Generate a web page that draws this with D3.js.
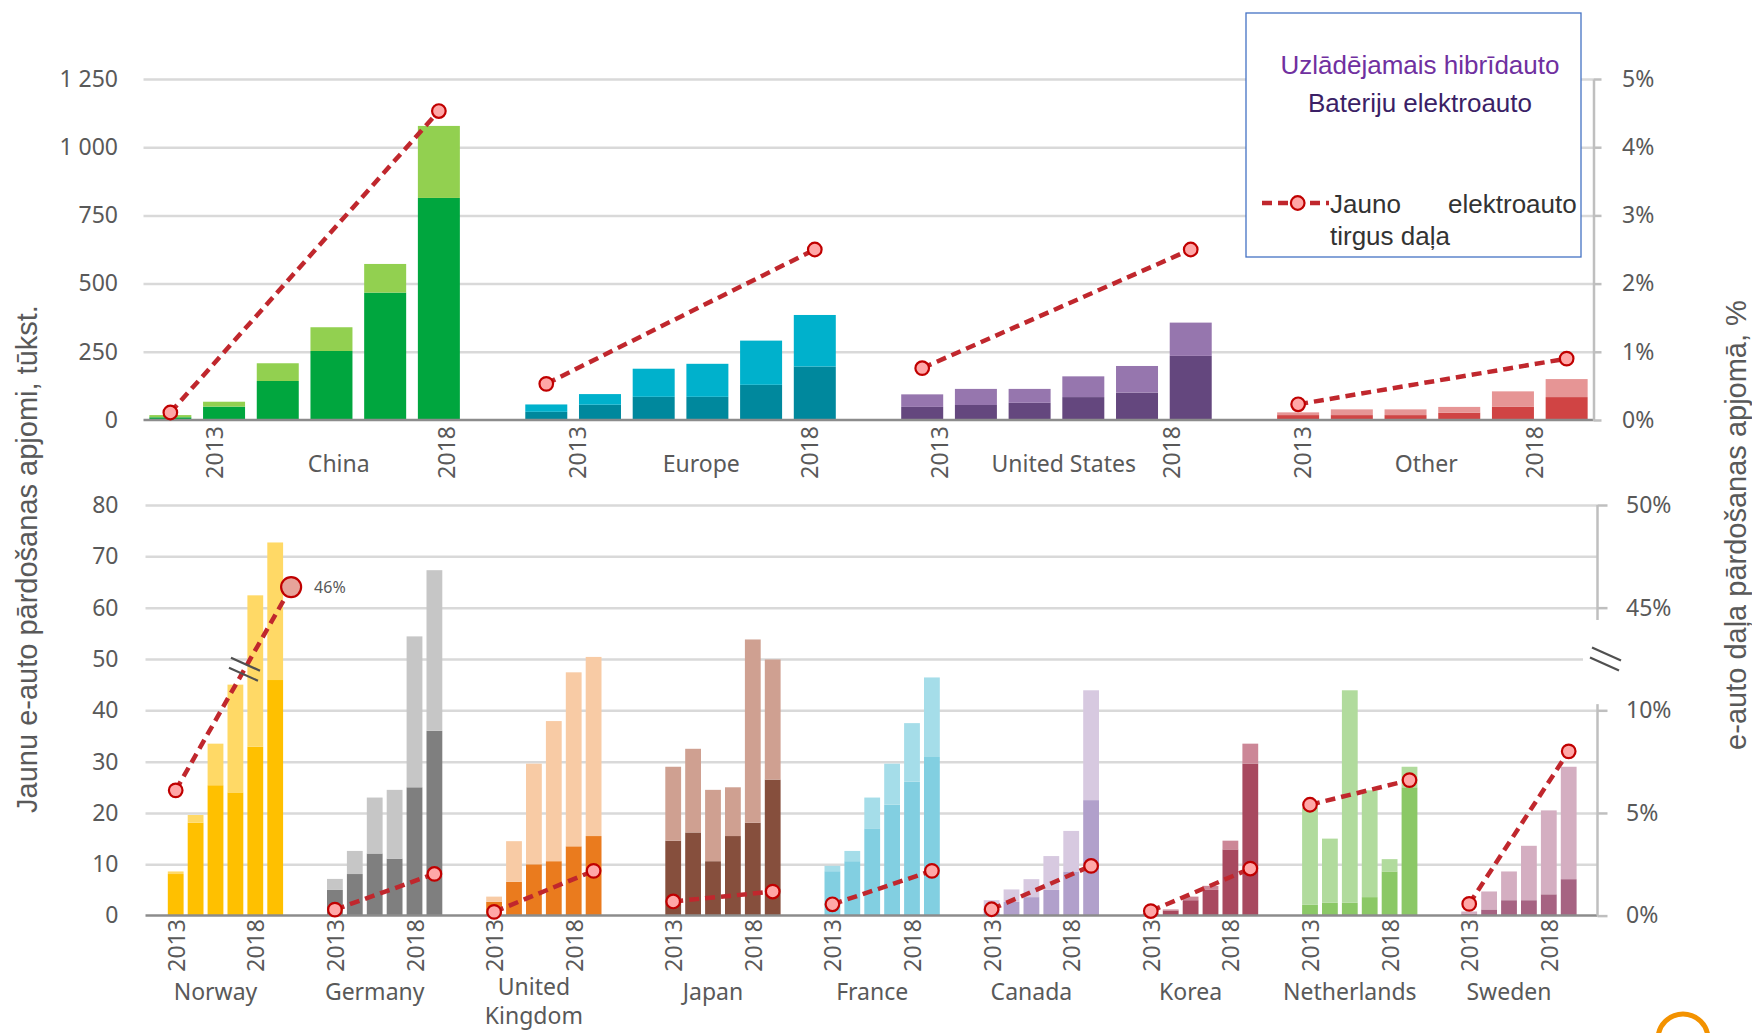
<!DOCTYPE html>
<html>
<head>
<meta charset="utf-8">
<script src="https://cdn.jsdelivr.net/npm/d3@7"></script>
<style>
  html, body { margin: 0; padding: 0; background: #fff; }
  svg { display: block; }
</style>
</head>
<body>
<svg id="chart" width="1752" height="1033"></svg>
<script>
// ---------- data ----------
// Upper panel: regional new electric-car sales, thousands (6 years per region)
const regions = ["China", "Europe", "United States", "Other"];
const regionBEV = [
  [10, 49, 143, 253, 467, 814],
  [30, 56, 85, 85, 129, 196],
  [48, 55, 63, 84, 100, 235],
  [18, 18, 18, 27, 48, 84]
];
const regionPHEV = [
  [8, 18, 65, 87, 105, 264],
  [27, 39, 103, 121, 162, 189],
  [46, 59, 51, 76, 98, 122],
  [10, 21, 21, 21, 57, 66]
];
// market share, % (first and last year)
const regionShareStart = [0.11, 0.53, 0.76, 0.23];
const regionShareEnd = [4.53, 2.50, 2.50, 0.90];

// Lower panel: selected countries, thousands
const countries = ["Norway", "Germany", "United Kingdom", "Japan", "France", "Canada", "Korea", "Netherlands", "Sweden"];
const countryBEV = [
  [8.1, 18.1, 25.4, 24.0, 32.9, 45.9],
  [5.0, 8.1, 12.1, 11.1, 25.0, 36.0],
  [2.7, 6.6, 10.0, 10.6, 13.5, 15.5],
  [14.6, 16.2, 10.6, 15.5, 18.1, 26.5],
  [8.65, 10.6, 17.0, 21.6, 26.1, 30.9],
  [1.2, 2.7, 3.6, 5.0, 8.6, 22.5],
  [0.3, 1.0, 3.0, 5.0, 12.9, 29.6],
  [2.1, 2.5, 2.5, 3.6, 8.6, 25.0],
  [0.4, 1.2, 3.0, 3.0, 4.15, 7.1]
];
const countryPHEV = [
  [0.5, 1.5, 8.1, 21.0, 29.5, 26.8],
  [2.15, 4.5, 10.9, 13.4, 29.4, 31.3],
  [1.0, 7.9, 19.6, 27.3, 33.9, 34.9],
  [14.4, 16.3, 13.9, 9.5, 35.7, 23.4],
  [1.05, 2.0, 6.0, 8.0, 11.4, 15.5],
  [1.8, 2.4, 3.5, 6.6, 7.9, 21.4],
  [0.2, 0.2, 0.7, 0.8, 1.7, 3.9],
  [18.9, 12.5, 41.4, 20.8, 2.4, 4.0],
  [0.4, 3.5, 5.6, 10.6, 16.35, 21.9]
];
const countryShareStart = [6.1, 0.29, 0.18, 0.69, 0.55, 0.31, 0.22, 5.4, 0.57];
const countryShareEnd = [46, 2.03, 2.18, 1.17, 2.18, 2.42, 2.29, 6.6, 8.0];

// axis ticks and labels
const yearLabels = ["2013", "2018"];
const topTicks = [0, 250, 500, 750, 1000, 1250];
const topPctTicks = [0, 1, 2, 3, 4, 5];
const botTicks = [0, 10, 20, 30, 40, 50, 60, 70, 80];
const botPctTicks = [0, 5, 10, 45, 50];
const leftTitle = "Jaunu e-auto pārdošanas apjomi, tūkst.";
const rightTitle = "e-auto daļa pārdošanas apjomā, %";
const legendLabels = ["Uzlādējamais hibrīdauto", "Bateriju elektroauto", "Jauno elektroauto", "tirgus daļa"];

// ---------- styles ----------
const regionColors = [
  ["#00A63E", "#92D050"],
  ["#00889D", "#00B1CC"],
  ["#64477E", "#9676AE"],
  ["#D04444", "#E69595"]
];
const countryColors = [
  ["#FFC000", "#FFD966"],
  ["#7F7F7F", "#C6C6C6"],
  ["#EA7B1E", "#F8CBA5"],
  ["#864F3D", "#CFA091"],
  ["#82CFE1", "#A5DDE9"],
  ["#B1A0CB", "#D7C9E0"],
  ["#A8495F", "#CC8797"],
  ["#8BC866", "#B1DB9D"],
  ["#A66382", "#D4AEC1"]
];
const AXIS_FONT = "'Noto Sans', 'Open Sans', sans-serif";
const TITLE_FONT = "'Liberation Sans', Arial, sans-serif";
const TEXT = "#595959";
const GRID = "#D9D9D9";
const BASE = "#8C8C8C";
const RAXIS = "#BFBFBF";
const LINE_RED = "#C0272D";

const svg = d3.select("#chart");

// Build band-scale slot keys: 6 bars per group plus empty gap slots between groups
function slotDomain(groups, gapCount) {
  const d = [];
  groups.forEach((g, gi) => {
    for (let i = 0; i < 6; i++) d.push(g + "|" + i);
    if (gi < groups.length - 1) for (let j = 0; j < gapCount(g); j++) d.push("gap|" + g + "|" + j);
  });
  return d;
}

function drawBars(layer, groups, bev, phev, colors, x, y) {
  groups.forEach((g, gi) => {
    const rows = bev[gi].map((b, i) => ({ key: g + "|" + i, bev: b, phev: phev[gi][i] }));
    const stacked = d3.stack().keys(["bev", "phev"])(rows);
    stacked.forEach((series, si) => {
      layer.selectAll(null).data(series).join("rect")
        .attr("x", d => x(d.data.key))
        .attr("width", x.bandwidth())
        .attr("y", d => y(d[1]))
        .attr("height", d => y(d[0]) - y(d[1]))
        .attr("fill", colors[gi][si]);
    });
  });
}

function drawShareLine(layer, pts, r) {
  layer.append("path")
    .attr("d", d3.line().x(p => p.x).y(p => p.y)(pts))
    .attr("fill", "none").attr("stroke", LINE_RED)
    .attr("stroke-width", 4.5).attr("stroke-dasharray", "10,6");
  if (r > 0) {
    layer.selectAll(null).data(pts).join("circle")
      .attr("cx", p => p.x).attr("cy", p => p.y)
      .attr("r", p => p.r || r)
      .attr("fill", p => p.fill || "#FFA7A7")
      .attr("stroke", "#C00000").attr("stroke-width", 2.2);
  }
}

function styleAxisText(g) {
  g.attr("font-family", AXIS_FONT).attr("font-size", 23);
  g.selectAll(".tick text").attr("fill", TEXT);
}

// ================= Upper panel =================
const P1 = { left: 143.5, right: 1593.5, y0: 420, y1: 79 };
const yTop = d3.scaleLinear().domain([0, 1250]).range([P1.y0, P1.y1]);
const pctTop = d3.scaleLinear().domain([0, 5]).range([P1.y0, P1.y1]);
const xTop = d3.scaleBand()
  .domain(slotDomain(regions, () => 1))
  .range([P1.left, P1.right])
  .paddingInner(0.218).paddingOuter(0.109);
// category labels sit on an even grid of four groups
const xTopLabel = d3.scaleBand().domain(regions).range([143, 1593]);

const fmtK = d3.formatLocale({ decimal: ",", thousands: "\u00a0", grouping: [3], currency: ["", ""] }).format(",d");

const gTopGrid = svg.append("g")
  .attr("transform", `translate(${P1.left},0)`)
  .call(d3.axisLeft(yTop).tickValues(topTicks).tickSize(-(P1.right - P1.left)).tickPadding(25.5).tickFormat(fmtK));
gTopGrid.select(".domain").remove();
gTopGrid.selectAll(".tick line").attr("stroke", d => d === 0 ? "none" : GRID).attr("stroke-width", 2.5);
styleAxisText(gTopGrid);

const topBars = svg.append("g");
drawBars(topBars, regions, regionBEV, regionPHEV, regionColors, xTop, yTop);

svg.append("line")
  .attr("x1", P1.left).attr("x2", P1.right)
  .attr("y1", yTop(0)).attr("y2", yTop(0))
  .attr("stroke", BASE).attr("stroke-width", 2.5);

const gTopRight = svg.append("g")
  .attr("transform", `translate(${P1.right},0)`)
  .call(d3.axisRight(pctTop).tickValues(topPctTicks).tickSize(8).tickSizeOuter(0).tickPadding(20.5).tickFormat(d => d + "%"));
gTopRight.select(".domain").attr("stroke", RAXIS).attr("stroke-width", 2.5);
gTopRight.selectAll(".tick line").attr("stroke", RAXIS).attr("stroke-width", 2.5);
styleAxisText(gTopRight);

// region category labels
const topLabels = svg.append("g").attr("font-family", AXIS_FONT).attr("font-size", 23).attr("fill", TEXT);
regions.forEach(g => {
  const x0 = xTopLabel(g), w = xTopLabel.bandwidth();
  [0.196, 0.836].forEach((f, k) => {
    topLabels.append("text")
      .attr("transform", `translate(${x0 + w * f},${P1.y0 + 6}) rotate(-90)`)
      .attr("text-anchor", "end").attr("dominant-baseline", "central")
      .text(yearLabels[k]);
  });
  topLabels.append("text")
    .attr("x", x0 + w * 0.54).attr("y", 463)
    .attr("text-anchor", "middle").attr("dominant-baseline", "central")
    .text(g);
});

// legend
const leg = svg.append("g");
leg.append("rect").attr("x", 1246).attr("y", 13).attr("width", 335).attr("height", 244)
  .attr("fill", "#fff").attr("stroke", "#4472C4").attr("stroke-width", 1.3);
leg.append("text").attr("x", 1420).attr("y", 73.5).attr("text-anchor", "middle")
  .attr("font-family", TITLE_FONT).attr("font-size", 26).attr("fill", "#7030A0").text(legendLabels[0]);
leg.append("text").attr("x", 1420).attr("y", 111.5).attr("text-anchor", "middle")
  .attr("font-family", TITLE_FONT).attr("font-size", 26).attr("fill", "#3B1F66").text(legendLabels[1]);
drawShareLine(leg, [{ x: 1262, y: 203 }, { x: 1329, y: 203 }], 0);
leg.append("circle").attr("cx", 1297.7).attr("cy", 203).attr("r", 6.8)
  .attr("fill", "#FFA7A7").attr("stroke", "#C00000").attr("stroke-width", 2.2);
leg.append("text").attr("x", 1330).attr("y", 212.5)
  .attr("font-family", TITLE_FONT).attr("font-size", 26).attr("fill", "#333")
  .style("word-spacing", "40px").text(legendLabels[2]);
leg.append("text").attr("x", 1330).attr("y", 245)
  .attr("font-family", TITLE_FONT).attr("font-size", 26).attr("fill", "#333").text(legendLabels[3]);

// share lines
const topLines = svg.append("g");
regions.forEach((g, gi) => {
  const bw = xTop.bandwidth() / 2;
  drawShareLine(topLines, [
    { x: xTop(g + "|0") + bw, y: pctTop(regionShareStart[gi]) },
    { x: xTop(g + "|5") + bw, y: pctTop(regionShareEnd[gi]) }
  ], 6.8);
});

// ================= Lower panel =================
const P2 = { left: 145.5, right: 1597.5, y0: 915.6, y1: 505 };
const yBot = d3.scaleLinear().domain([0, 80]).range([P2.y0, P2.y1]);
// broken share axis: 0–10 % and 45–50 % share the same units per percent
const pctBot = d3.scaleLinear().domain([0, 10, 45, 50]).range([yBot(0), yBot(40), yBot(60), yBot(80)]);
const xBot = d3.scaleBand()
  .domain(slotDomain(countries, c => c === "United Kingdom" ? 3 : 2))
  .range([165.75, 1578.65])
  .paddingInner(0.206).paddingOuter(0.103);

const gBotGrid = svg.append("g")
  .attr("transform", `translate(${P2.left},0)`)
  .call(d3.axisLeft(yBot).tickValues(botTicks).tickSize(-(P2.right - P2.left)).tickPadding(27));
gBotGrid.select(".domain").remove();
gBotGrid.selectAll(".tick line")
  .attr("stroke", d => d === 0 ? "none" : GRID).attr("stroke-width", 2.5)
  .attr("x2", d => d === 50 ? (P2.right - P2.left) - 14.5 : (P2.right - P2.left));
styleAxisText(gBotGrid);

const botBars = svg.append("g");
drawBars(botBars, countries, countryBEV, countryPHEV, countryColors, xBot, yBot);

svg.append("line")
  .attr("x1", P2.left).attr("x2", P2.right)
  .attr("y1", yBot(0)).attr("y2", yBot(0))
  .attr("stroke", BASE).attr("stroke-width", 2.5);

const gBotRight = svg.append("g")
  .attr("transform", `translate(${P2.right},0)`)
  .call(d3.axisRight(pctBot).tickValues(botPctTicks).tickSize(10).tickPadding(18.5).tickFormat(d => d + "%"));
gBotRight.select(".domain").remove();
gBotRight.selectAll(".tick line").attr("stroke", RAXIS).attr("stroke-width", 2.5);
styleAxisText(gBotRight);
// axis segments on either side of the break
[[yBot(0), yBot(41.2)], [yBot(57.6), yBot(80)]].forEach(([a, b]) => {
  svg.append("line").attr("x1", P2.right).attr("x2", P2.right).attr("y1", a).attr("y2", b)
    .attr("stroke", RAXIS).attr("stroke-width", 2.5);
});

function breakMark(cx, cy) {
  const gm = svg.append("g").attr("stroke", "#505050").attr("stroke-width", 2.2);
  [[1, -5], [-1, 5]].forEach(([ox, oy]) => {
    gm.append("line")
      .attr("x1", cx + ox - 14.5).attr("y1", cy + oy - 6.5)
      .attr("x2", cx + ox + 14.5).attr("y2", cy + oy + 6.5);
  });
}
breakMark(P2.right + 8, yBot(50));

// country labels
const botLabels = svg.append("g").attr("font-family", AXIS_FONT).attr("font-size", 23).attr("fill", TEXT);
countries.forEach(c => {
  const bw = xBot.bandwidth() / 2;
  [0, 4].forEach((bi, k) => {
    botLabels.append("text")
      .attr("transform", `translate(${xBot(c + "|" + bi) + bw},${P2.y0 + 3.5}) rotate(-90)`)
      .attr("text-anchor", "end").attr("dominant-baseline", "central")
      .text(yearLabels[k]);
  });
  const cx = xBot(c + "|2") + bw;
  const words = c === "United Kingdom" ? ["United", "Kingdom"] : [c];
  words.forEach((w, wi) => {
    botLabels.append("text")
      .attr("x", cx).attr("y", (words.length > 1 ? 986 : 991) + wi * 29)
      .attr("text-anchor", "middle").attr("dominant-baseline", "central")
      .text(w);
  });
});

// share lines
const botLines = svg.append("g");
countries.forEach((c, ci) => {
  const bw = xBot.bandwidth() / 2;
  const highlight = countryShareEnd[ci] > 10;
  const endX = xBot(c + "|5") + bw + (highlight ? xBot.step() * 0.8 : 0);
  const pts = [
    { x: xBot(c + "|0") + bw, y: pctBot(countryShareStart[ci]) },
    { x: endX, y: pctBot(countryShareEnd[ci]), r: highlight ? 10 : null, fill: highlight ? "#E6A39A" : null }
  ];
  drawShareLine(botLines, pts, 6.8);
  if (highlight) {
    // break symbol where the line passes the axis break
    const yb = yBot(48);
    const t = (pts[0].y - yb) / (pts[0].y - pts[1].y);
    breakMark(pts[0].x + t * (pts[1].x - pts[0].x), yb);
    svg.append("text")
      .attr("x", endX + 23).attr("y", pts[1].y)
      .attr("dominant-baseline", "central")
      .attr("font-family", AXIS_FONT).attr("font-size", 16).attr("fill", TEXT)
      .text(countryShareEnd[ci] + "%");
  }
});

// ================= axis titles =================
svg.append("text")
  .attr("transform", "translate(27,559) rotate(-90)")
  .attr("text-anchor", "middle").attr("dominant-baseline", "central")
  .attr("font-family", TITLE_FONT).attr("font-size", 29).attr("fill", TEXT)
  .text(leftTitle);
svg.append("text")
  .attr("transform", "translate(1736,525) rotate(-90)")
  .attr("text-anchor", "middle").attr("dominant-baseline", "central")
  .attr("font-family", TITLE_FONT).attr("font-size", 29).attr("fill", TEXT)
  .text(rightTitle);

// corner logo ring
svg.append("circle").attr("cx", 1683).attr("cy", 1039).attr("r", 25)
  .attr("fill", "none").attr("stroke", "#F39200").attr("stroke-width", 5);
</script>
</body>
</html>
